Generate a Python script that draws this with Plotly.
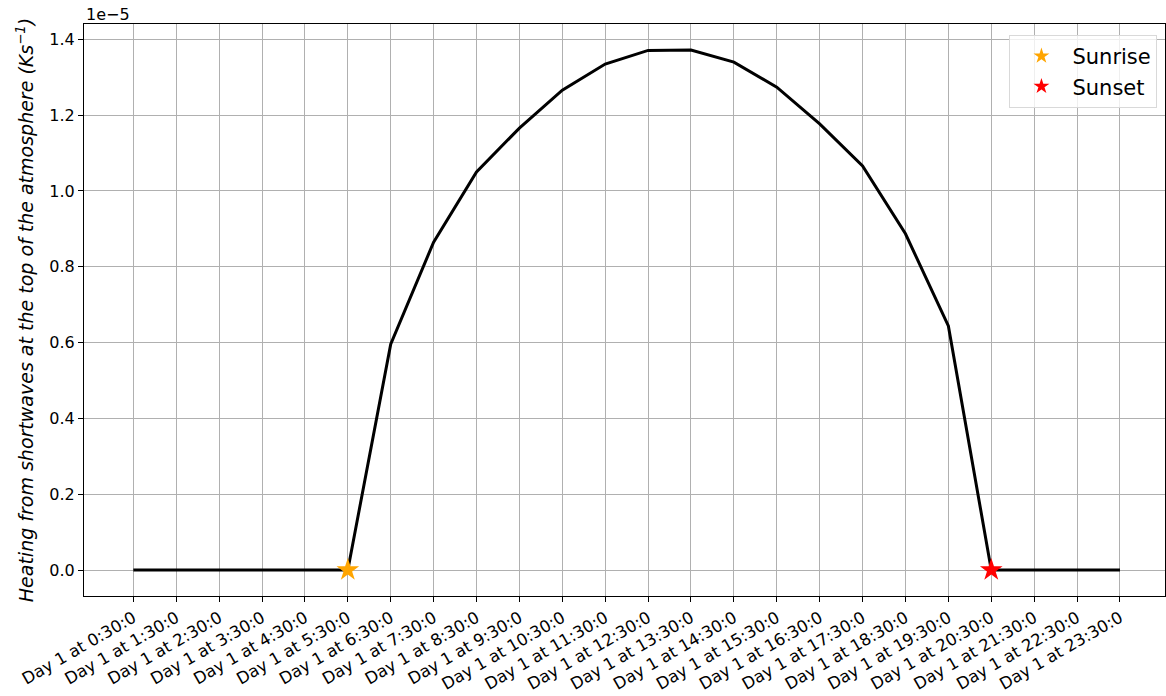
import plotly.graph_objects as go

hours = list(range(24))
labels = [f"Day 1 at {h}:30:0" for h in hours]
heating_e5 = [0, 0, 0, 0, 0, 0, 0.596, 0.865, 1.050, 1.166, 1.266, 1.335, 1.371, 1.372,
              1.340, 1.274, 1.177, 1.066, 0.887, 0.644, 0, 0, 0, 0]
heating = [v * 1e-5 for v in heating_e5]
sunrise_idx = 5
sunset_idx = 20
ytick_vals = [0.0, 0.2, 0.4, 0.6, 0.8, 1.0, 1.2, 1.4]

fig = go.Figure()
fig.add_trace(go.Scatter(x=labels, y=heating, mode="lines",
                         line=dict(color="black", width=3), showlegend=False))
fig.add_trace(go.Scatter(x=[labels[sunrise_idx]], y=[heating[sunrise_idx]], mode="markers",
                         marker=dict(symbol="star", size=17, color="orange"), name="Sunrise"))
fig.add_trace(go.Scatter(x=[labels[sunset_idx]], y=[heating[sunset_idx]], mode="markers",
                         marker=dict(symbol="star", size=17, color="red"), name="Sunset"))

font = "DejaVu Sans, sans-serif"
fig.update_layout(
    width=1166, height=696,
    margin=dict(l=84, r=1, t=24, b=100),
    plot_bgcolor="white", paper_bgcolor="white",
    font=dict(family=font, size=14, color="black"),
    legend=dict(x=0.993, y=0.981, xanchor="right", yanchor="top",
                bgcolor="rgba(255,255,255,0.8)", bordercolor="#d9d9d9", borderwidth=1,
                font=dict(size=21), itemsizing="constant", itemwidth=52,
                tracegroupgap=4),
    xaxis=dict(type="category", categoryorder="array", categoryarray=labels,
               range=[-1.15, 24.05], tickangle=-30, showgrid=True, gridcolor="#b0b0b0",
               gridwidth=0.8, ticks="outside", ticklen=5, tickcolor="black",
               showline=True, linecolor="black", linewidth=1, mirror=True,
               zeroline=False, tickfont=dict(size=16.5), automargin=False),
    yaxis=dict(range=[-0.0686e-5, 1.4406e-5], tickvals=[v * 1e-5 for v in ytick_vals],
               ticktext=[f"{v:.1f}" for v in ytick_vals], showgrid=True, gridcolor="#b0b0b0",
               gridwidth=0.8, ticks="outside", ticklen=5, tickcolor="black",
               showline=True, linecolor="black", linewidth=1, mirror=True, zeroline=False,
               tickfont=dict(size=16), automargin=False,
               title=dict(text="<i>Heating from shortwaves at the top of the atmosphere (Ks<sup>−1</sup>)</i>",
                          font=dict(size=19), standoff=10)),
)
fig.add_annotation(text="1e−5", xref="paper", yref="paper", x=0, y=1, xanchor="left",
                   yanchor="bottom", showarrow=False, font=dict(size=16), yshift=-2)
fig.write_html("out.html")
